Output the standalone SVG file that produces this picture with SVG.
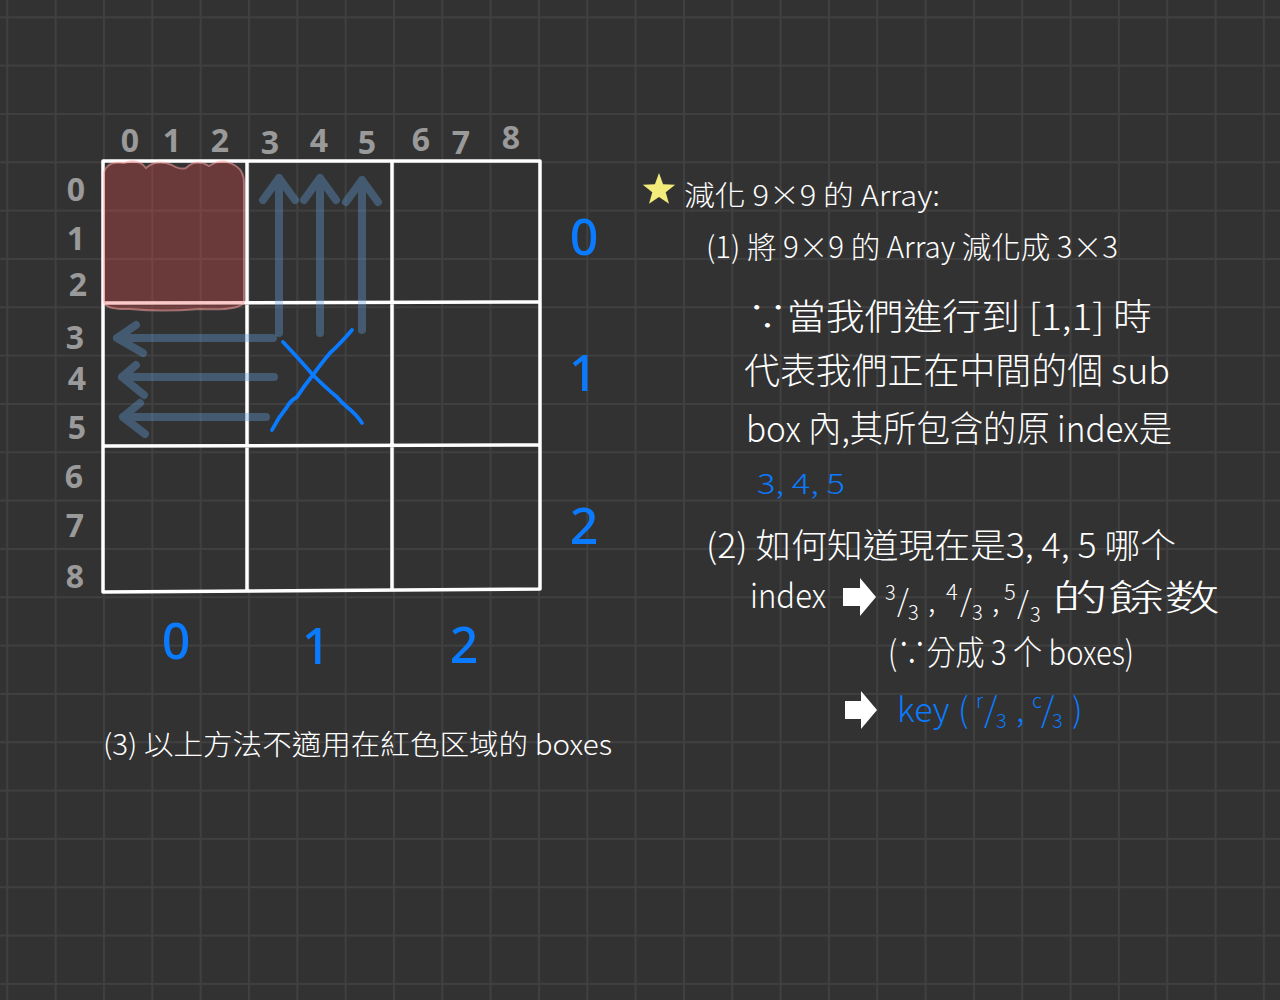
<svg xmlns="http://www.w3.org/2000/svg" width="1280" height="1000" viewBox="0 0 1280 1000">
<defs>
<pattern id="bggrid" patternUnits="userSpaceOnUse" x="6.3" y="16.3" width="48.33" height="48.33">
<path d="M1,0 V48.33 M0,1 H48.33" stroke="#404040" stroke-width="2" fill="none"/>
</pattern>
<style>
.w{fill:#ffffff;font-family:"Noto Sans CJK TC","Noto Sans",sans-serif;font-weight:300}
.b{fill:#0a7bff;font-family:"Noto Sans CJK TC","Noto Sans",sans-serif;font-weight:300}
.idx{fill:#9a9a9a;font-family:"Noto Sans","DejaVu Sans",sans-serif;font-weight:700;font-size:32px;text-anchor:middle}
.big{fill:#0a7bff;font-family:"Noto Sans","DejaVu Sans",sans-serif;font-weight:500;font-size:50px;text-anchor:middle}
.gl{stroke:#ffffff;stroke-width:3.5;fill:none;stroke-linecap:round}
.ar{stroke:rgb(100,160,225);stroke-opacity:0.36;stroke-width:8;fill:none;stroke-linecap:round;stroke-linejoin:round}
.x{stroke:#0a7bff;stroke-width:3.8;fill:none;stroke-linecap:round;stroke-linejoin:round}
.icon{fill:#ffffff}
</style>
</defs>
<rect width="1280" height="1000" fill="#323232"/>
<rect width="1280" height="1000" fill="url(#bggrid)"/>

<g id="big-grid">
<path class="gl" d="M103,161 L540,161 M103,303 L540,302 M103,446 L540,445 M103,592 L540,589 M103,161 L103,592 M247,161 L247,591 M392,161 L392,590 M540,161 L540,589"/>
</g>

<g id="red-region">
<path d="M104,302 L104,172 Q108,160 124,163 Q138,158 146,168 Q156,159 172,165 Q180,170 186,168 Q196,158 209,166 Q222,157 236,166 Q245,172 244,186 L244,302 Q240,311 200,309 Q160,312 130,309 Q106,310 104,302 Z" fill="rgb(240,80,80)" fill-opacity="0.3" stroke="rgb(255,170,170)" stroke-opacity="0.5" stroke-width="2"/>
</g>

<g id="connectors">
<path class="ar" d="M279,333 L279,178 M263,200 L279,178 L295,200"/>
<path class="ar" d="M320,333 L320,178 M304,200 L320,178 L336,200"/>
<path class="ar" d="M362,330 L362,180 M346,202 L362,180 L378,202"/>
<path class="ar" d="M273,338 L117,338 M136,325 L117,338 L143,353"/>
<path class="ar" d="M274,377 L122,377 M136,365 L122,377 L144,395"/>
<path class="ar" d="M266,417 L123,417 M140,403 L123,417 L145,434"/>
</g>

<g id="x-mark">
<path class="x" d="M283,342 Q300,360 313,375 Q326,388 337,397 Q342,403 347,407 Q356,414 362,423"/>
<path class="x" d="M352,330 Q340,344 330,353 Q320,365 313,375 Q304,386 297,397 Q290,401 287,407 Q278,418 272,430"/>
</g>

<g id="col-labels">
<text class="idx" x="130" y="152">0</text>
<text class="idx" x="172" y="152">1</text>
<text class="idx" x="220" y="152">2</text>
<text class="idx" x="270" y="154">3</text>
<text class="idx" x="319" y="152">4</text>
<text class="idx" x="367" y="154">5</text>
<text class="idx" x="421" y="151">6</text>
<text class="idx" x="461" y="154">7</text>
<text class="idx" x="511" y="149">8</text>
</g>
<g id="row-labels">
<text class="idx" x="76" y="201">0</text>
<text class="idx" x="76" y="250">1</text>
<text class="idx" x="78" y="296">2</text>
<text class="idx" x="75" y="349">3</text>
<text class="idx" x="77" y="390">4</text>
<text class="idx" x="77" y="439">5</text>
<text class="idx" x="74" y="488">6</text>
<text class="idx" x="75" y="537">7</text>
<text class="idx" x="75" y="588">8</text>
</g>
<g id="box-labels">
<text class="big" x="584" y="255">0</text>
<text class="big" x="583" y="391">1</text>
<text class="big" x="584" y="544">2</text>
<text class="big" x="176" y="659">0</text>
<text class="big" x="316" y="664">1</text>
<text class="big" x="464" y="663">2</text>
</g>

<g id="star">
<polygon points="659,173 663.1,184.3 675.2,184.7 665.7,192.2 669,203.8 659,197 649,203.8 652.3,192.2 642.8,184.7 654.9,184.3" fill="#f3ec7a"/>
</g>

<g id="notes">
<text class="w" x="684" y="206" font-size="28" textLength="256" lengthAdjust="spacingAndGlyphs">減化 9×9 的 Array:</text>
<text class="w" x="706" y="258" font-size="30" textLength="412" lengthAdjust="spacingAndGlyphs">(1) 將 9×9 的 Array 減化成 3×3</text>
<text class="w" x="748" y="330" font-size="36" textLength="404" lengthAdjust="spacingAndGlyphs">∵當我們進行到 [1,1] 時</text>
<text class="w" x="744" y="384" font-size="36" textLength="426" lengthAdjust="spacingAndGlyphs">代表我們正在中間的個 sub</text>
<text class="w" x="746" y="442" font-size="36" textLength="426" lengthAdjust="spacingAndGlyphs">box 內,其所包含的原 index是</text>
<text class="b" x="757" y="494" font-size="28" textLength="88" lengthAdjust="spacingAndGlyphs">3, 4, 5</text>
<text class="w" x="706" y="558" font-size="34" textLength="470" lengthAdjust="spacingAndGlyphs">(2) 如何知道現在是3, 4, 5 哪个</text>
<text class="w" x="750" y="608" font-size="34" textLength="76" lengthAdjust="spacingAndGlyphs">index</text>
<text class="w" font-size="30"><tspan x="885" y="600" font-size="20">3</tspan><tspan x="897" y="612">/</tspan><tspan x="908" y="620" font-size="20">3</tspan><tspan x="928" y="612">,</tspan><tspan x="946" y="600" font-size="22">4</tspan><tspan x="960" y="612">/</tspan><tspan x="972" y="620" font-size="20">3</tspan><tspan x="992" y="612">,</tspan><tspan x="1004" y="600" font-size="22">5</tspan><tspan x="1017" y="614">/</tspan><tspan x="1030" y="622" font-size="20">3</tspan></text>
<text class="w" x="1052" y="611" font-size="36" textLength="168" lengthAdjust="spacingAndGlyphs">的餘数</text>
<text class="w" x="888" y="665" font-size="34" textLength="246" lengthAdjust="spacingAndGlyphs">(∵分成 3 个 boxes)</text>
<text class="b" font-size="34"><tspan x="897" y="722">key</tspan><tspan x="958" y="722">(</tspan><tspan x="976" y="708" font-size="20">r</tspan><tspan x="984" y="722">/</tspan><tspan x="996" y="728" font-size="20">3</tspan><tspan x="1016" y="722">,</tspan><tspan x="1032" y="708" font-size="20">c</tspan><tspan x="1041" y="722">/</tspan><tspan x="1052" y="728" font-size="20">3</tspan><tspan x="1072" y="722">)</tspan></text>
<text class="w" x="103" y="755" font-size="28" textLength="509" lengthAdjust="spacingAndGlyphs">(3) 以上方法不適用在紅色区域的 boxes</text>
</g>

<g id="arrow-icons">
<path class="icon" d="M843,588 L860,588 L860,578 L876,597 L860,616 L860,606 L843,606 Z"/>
<path class="icon" d="M845,701 L861,701 L861,691 L877,710 L861,729 L861,719 L845,719 Z"/>
</g>
</svg>
